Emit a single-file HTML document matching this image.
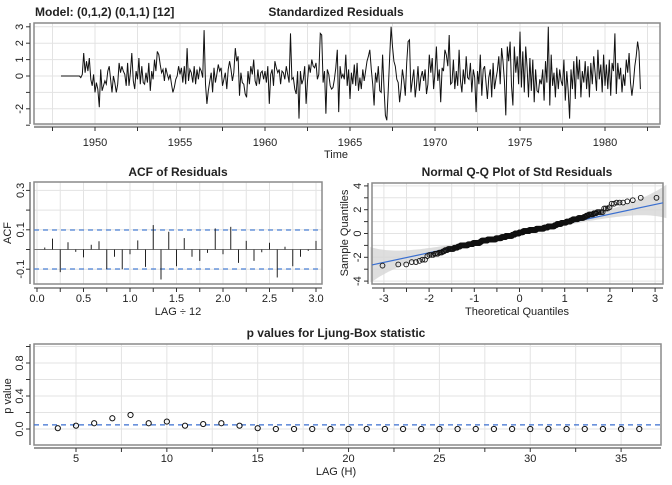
<!DOCTYPE html>
<html><head><meta charset="utf-8"><style>
body{margin:0;background:#fff}
svg text{font-family:"Liberation Sans",Arial,sans-serif}
</style></head><body>
<svg id="c" width="672" height="480" viewBox="0 0 672 480" xmlns="http://www.w3.org/2000/svg"></svg>
<script>
const residualStart = 1948;
const residuals = [
0,0,0,0,0,0,0,0,0,0,0,0,
0,0,-0.1,0.1,1.4,0.2,0.9,0.3,1.1,-0.2,-0.6,0.1,
-1.0,-0.4,-0.8,-1.9,0.4,-0.9,-0.6,-0.3,-0.5,0.3,0.6,-0.2,
-1.0,0.0,-0.4,-1.0,-0.5,0.8,0.2,0.6,0.3,0.1,-0.6,0.8,
-0.6,0.2,1.4,-0.3,-0.8,0.3,-0.2,1.1,-0.5,0.6,-0.4,-0.5,
0.2,-0.4,0.8,-0.9,0.3,-0.2,1.0,0.3,1.5,1.3,0.7,0.2,
0.4,-0.3,0.5,0.1,-0.2,0.1,-0.5,-1.0,-0.7,-0.2,0.0,0.6,
0.1,0.5,-0.4,0.6,-0.5,1.7,-0.3,0.4,0.2,-0.4,0.6,-0.5,
0.4,-0.2,0.5,0.3,-0.1,2.8,-0.5,-1.7,-0.9,-0.3,0.2,-1.0,
0.5,-0.4,0.1,0.7,0.3,0.5,-0.6,-0.2,0.2,-0.8,0.4,0.9,
0.4,-0.3,0.2,1.7,0.9,1.2,-1.2,0.2,-0.4,-0.5,-1.1,-1.3,
0.3,-0.5,0.6,0.1,1.0,-0.3,-0.6,0.4,-0.5,0.2,0.3,-0.2,
0.3,-0.4,0.6,-1.7,0.1,0.4,-0.6,0.9,0.5,0.2,0.4,-0.5,
0.3,0.2,-0.2,0.6,0.1,-0.4,2.6,-0.2,-0.1,-0.8,-1.1,0.3,
-2.6,0.3,-0.5,-0.2,0.6,-1.7,-0.3,0.7,0.2,1.0,0.6,0.5,
0.8,-0.2,0.1,2.6,2.5,-0.4,0.3,-2.3,0.4,0.1,-0.6,-0.8,
-0.7,-0.2,0.5,1.6,-2.2,0.6,-0.1,0.1,-0.2,1.3,-0.6,0.4,
-1.4,0.2,-0.5,0.7,-0.6,0.8,-0.9,-0.1,-0.8,0.4,-0.3,0.3,
0.9,1.2,1.6,0.4,-0.5,-1.8,0.2,-0.4,0.6,-0.9,-1.0,1.3,
-0.7,-2.4,-2.7,-0.8,1.2,3.0,1.8,0.9,0.6,-0.2,-0.4,-1.6,
-0.8,0.4,-0.2,-1.2,0.8,2.1,2.2,-1.0,-0.3,0.4,-1.3,-0.5,
0.6,-0.9,-0.1,0.3,-0.3,0.4,-1.1,-0.5,1.3,0.2,1.1,-0.8,
0.2,1.8,-0.3,0.4,-1.6,0.5,0.3,1.6,1.3,0.6,2.5,-0.5,
-0.4,1.0,-0.8,0.3,-0.6,1.6,-0.3,-1.0,0.4,-0.5,1.2,-0.1,
-0.2,0.8,-1.0,0.4,-0.1,-2.2,0.3,-0.5,1.3,-1.2,0.4,0.6,
-0.4,-1.4,-0.1,0.4,-1.3,0.8,-0.8,-0.2,0.3,1.2,-0.5,1.7,
0.9,-0.3,-2.4,1.8,0.9,2.1,-0.6,-1.8,1.8,0.2,1.2,-0.5,
2.7,-0.7,1.5,-1.0,1.8,0.5,-1.3,1.1,-0.9,1.0,-1.6,0.4,
-0.9,-1.0,-0.2,-0.5,0.4,-1.5,0.9,-0.4,3.0,-1.8,1.3,-0.6,
0.2,-1.3,0.5,-0.8,0.4,-0.3,-0.6,1.0,-1.5,0.3,-0.9,-2.6,
0.4,-0.8,0.9,-1.4,1.2,-0.2,1.0,-1.3,0.3,-0.4,0.9,-0.8,
0.6,-1.3,0.8,-0.5,1.2,0.2,-0.9,1.6,-0.2,0.7,-1.0,1.3,
-0.6,0.7,-0.8,1.0,-1.2,0.8,0.3,2.6,-1.1,0.8,-0.2,0.5,
-1.0,0.1,-0.6,1.0,0.2,1.4,-0.4,-1.2,-0.5,0.6,1.2,2.1,
1.5,-0.8];
const yearTicks = [1950,1955,1960,1965,1970,1975,1980];
const residTicks = [-2,0,1,2,3];
const acfValues = [0.01,0.055,-0.115,0.037,-0.012,-0.04,0.024,0.042,-0.10,-0.037,-0.10,-0.024,
0.046,-0.088,0.124,-0.152,0.09,-0.085,0.058,-0.037,-0.058,-0.017,0.107,-0.024,
0.115,-0.068,0.044,-0.058,-0.014,0.034,-0.142,0.014,-0.085,-0.037,-0.007,0.044];
const acfBound = 0.099;
const acfXTicks = ["0.0","0.5","1.0","1.5","2.0","2.5","3.0"];
const acfYTicks = ["-0.1","0.1","0.3"];
const qqTicksX = [-3,-2,-1,0,1,2,3];
const qqTicksY = [-4,-2,0,2,4];
const lbLags = [4,5,6,7,8,9,10,11,12,13,14,15,16,17,18,19,20,21,22,23,24,25,26,27,28,29,30,31,32,33,34,35,36];
const lbPvalues = [0.01,0.04,0.07,0.13,0.17,0.07,0.09,0.04,0.06,0.07,0.04,0.01,0,0,0,0,0,0,0,0,0,0,0,0,0,0,0,0,0,0,0,0,0];
const lbXTicks = [5,10,15,20,25,30,35];
const lbYTicks = ["0.0","0.4","0.8"];

const S = document.getElementById('c');
const NS = 'http://www.w3.org/2000/svg';
function el(tag, attrs, parent){const e=document.createElementNS(NS,tag);for(const k in attrs)e.setAttribute(k,attrs[k]);(parent||S).appendChild(e);return e;}
function txt(s,x,y,opt,parent){const t=el('text',Object.assign({x:x,y:y,'font-size':11,fill:'#222','text-anchor':'middle'},opt||{}),parent);t.textContent=s;return t;}

function panel(name){
  const g=el('g',{});
  
  
  return g;
}
function frame(g,L,R,T,B){el('rect',{x:L,y:T,width:R-L,height:B-T,fill:'none',stroke:'#8a8a8a','stroke-width':1.5},g);}
function grid(g,isX,v,L,R,T,B){ if(isX) el('line',{x1:v,x2:v,y1:T,y2:B,stroke:'#e3e3e3','stroke-width':1},g); else el('line',{x1:L,x2:R,y1:v,y2:v,stroke:'#e3e3e3','stroke-width':1},g);}
function xtick(g,x,y0){el('line',{x1:x,x2:x,y1:y0,y2:y0+4,stroke:'#333'},g);}
function ytick(g,y,x0){el('line',{x1:x0,x2:x0-4,y1:y,y2:y,stroke:'#333'},g);}
function ylab(g,s,x,y){const t=txt(s,x,y,{transform:`rotate(-90 ${x} ${y})`,'dominant-baseline':'middle'},g);return t;}

const mt=txt('Model: (0,1,2) (0,1,1) [12]',35,16,{'text-anchor':'start','font-weight':'bold','font-size':12});


// ---------- panel 1
(function(){
  const L=34,R=660,T=23,B=124;
  const g=panel('standardized-residuals-panel');
  const sx=t=>95+(t-1950)*(510/30), sy=v=>76-v*16.4;
  for(let t=1947.5;t<=1982.5;t+=2.5) if(sx(t)>L&&sx(t)<R) grid(g,true,sx(t),L,R,T,B);
  for(let v=-3;v<=3;v++) grid(g,false,sy(v),L,R,T,B);
  frame(g,L,R,T,B);
  const tt=txt('Standardized Residuals',336,16,{'font-weight':'bold','font-size':12},g);
  
  el('line',{x1:L,x2:R,y1:127,y2:127,stroke:'#333'},g);
  for(let t=1947.5;t<=1982.5;t+=2.5){ if(sx(t)>=L&&sx(t)<=R) xtick(g,sx(t),127);}
  yearTicks.forEach(y=>{txt(String(y),sx(y),146,{},g);});
  residTicks.forEach(v=>{ylab(g,String(v),20,sy(v));});
  el('line',{x1:30,x2:30,y1:T,y2:B,stroke:'#333'},g);
  for(let v=-3;v<=3;v++) ytick(g,sy(v),30);
  txt('Time',336,158,{},g);
  const pts=residuals.map((v,i)=>sx(residualStart+i/12).toFixed(1)+','+sy(v).toFixed(1)).join(' ');
  const pl=el('polyline',{points:pts,fill:'none',stroke:'#111','stroke-width':1},g);
  
})();

// ---------- panel 2: ACF
(function(){
  const L=34,R=322,T=182,B=284;
  const g=panel('acf-panel');
  const sx=v=>37+v*(279/3), sy=v=>249.5-v*197;
  for(let v=0;v<=3.01;v+=0.25) grid(g,true,sx(v),L,R,T,B);
  for(let v=-0.1;v<=0.31;v+=0.1) grid(g,false,sy(v),L,R,T,B);
  frame(g,L,R,T,B);
  txt('ACF of Residuals',178,176,{'font-weight':'bold','font-size':12},g);
  el('line',{x1:L,x2:R,y1:sy(0),y2:sy(0),stroke:'#777'},g);
  [acfBound,-acfBound].forEach(b=>{el('line',{x1:L,x2:R,y1:sy(b),y2:sy(b),stroke:'#4a7fd4','stroke-width':1.3,'stroke-dasharray':'5,4'},g);});
  acfValues.forEach((v,i)=>{
    const x=sx((i+1)/12);
    const b=el('line',{x1:x,x2:x,y1:sy(0),y2:sy(v),stroke:'#222','stroke-width':1},g);
    
  });
  el('line',{x1:L,x2:R,y1:288,y2:288,stroke:'#333'},g);
  for(let v=0;v<=3.01;v+=0.25) xtick(g,sx(v),288);
  acfXTicks.forEach(s=>txt(s,sx(parseFloat(s)),302,{},g));
  el('line',{x1:30,x2:30,y1:T,y2:B,stroke:'#333'},g);
  for(let v=-0.1;v<=0.31;v+=0.1) ytick(g,sy(v),30);
  acfYTicks.forEach(s=>ylab(g,s,21,sy(parseFloat(s))));
  ylab(g,'ACF',8,233);
  txt('LAG ÷ 12',178,315,{},g);
})();

// ---------- panel 3: QQ
function qnorm(p){const a=[-39.6968302866538,220.946098424521,-275.928510446969,138.357751867269,-30.6647980661472,2.50662827745924],
b=[-54.4760987982241,161.585836858041,-155.698979859887,66.8013118877197,-13.2806815528857],
c=[-0.00778489400243029,-0.322396458041136,-2.40075827716184,-2.54973253934373,4.37466414146497,2.93816398269878],
d=[0.00778469570904146,0.32246712907004,2.445134137143,3.75440866190742];
let q,r;if(p<0.02425){q=Math.sqrt(-2*Math.log(p));return(((((c[0]*q+c[1])*q+c[2])*q+c[3])*q+c[4])*q+c[5])/((((d[0]*q+d[1])*q+d[2])*q+d[3])*q+1);}
if(p>1-0.02425){q=Math.sqrt(-2*Math.log(1-p));return-(((((c[0]*q+c[1])*q+c[2])*q+c[3])*q+c[4])*q+c[5])/((((d[0]*q+d[1])*q+d[2])*q+d[3])*q+1);}
q=p-0.5;r=q*q;return(((((a[0]*r+a[1])*r+a[2])*r+a[3])*r+a[4])*r+a[5])*q/(((((b[0]*r+b[1])*r+b[2])*r+b[3])*r+b[4])*r+1);}
(function(){
  const L=372,R=663,T=183,B=284;
  const g=panel('qq-panel');
  const sx=v=>519.5+v*45.2, sy=v=>233.5-v*11.9;
  for(let v=-3;v<=3;v+=0.5) grid(g,true,sx(v),L,R,T,B);
  for(let v=-4;v<=4;v++) grid(g,false,sy(v),L,R,T,B);
  const n=residuals.length, sorted=residuals.slice().sort((a,b)=>a-b);
  const tq=sorted.map((_,i)=>qnorm((i+0.5)/n));
  const q1=sorted[Math.floor(n*0.25)],q3=sorted[Math.floor(n*0.75)],z=qnorm(0.75);
  const slope=(q3-q1)/(2*z), icpt=(q1+q3)/2;
  const up=[],lo=[];
  for(let x=-3.3;x<=3.25;x+=0.05){const p=0.5*(1+Math.tanh(0.7978845608*(x+0.044715*x*x*x)));const dn=Math.exp(-x*x/2)/2.5066;const se=slope/dn*Math.sqrt(p*(1-p)/n)*1.96*1.65;const m=icpt+slope*x;up.push(sx(x).toFixed(1)+','+sy(Math.min(m+se,4.1)).toFixed(1));lo.unshift(sx(x).toFixed(1)+','+sy(Math.max(m-se,-4.1)).toFixed(1));}
  const band=el('polygon',{points:up.concat(lo).join(' '),fill:'#d6d6d6','fill-opacity':0.8},g);
  
  frame(g,L,R,T,B);
  txt('Normal Q-Q Plot of Std Residuals',517,176,{'font-weight':'bold','font-size':12},g);
  const ql=el('line',{x1:L,x2:R,y1:sy(icpt+slope*(-3.3)),y2:sy(icpt+slope*3.1),stroke:'#3a6fd0','stroke-width':1.2},g);
  
  sorted.forEach((v,i)=>{
    const c=el('circle',{cx:sx(tq[i]),cy:sy(v),r:2.4,fill:'none',stroke:'#111','stroke-width':0.9},g);
    
  });
  el('line',{x1:L,x2:R,y1:288,y2:288,stroke:'#333'},g);
  for(let v=-3;v<=3;v+=0.5) xtick(g,sx(v),288);
  qqTicksX.forEach(v=>txt(String(v),sx(v),302,{},g));
  el('line',{x1:368,x2:368,y1:T,y2:B,stroke:'#333'},g);
  for(let v=-4;v<=4;v++) ytick(g,sy(v),368);
  qqTicksY.forEach(v=>ylab(g,String(v),358,sy(v)));
  ylab(g,'Sample Quantiles',345,233);
  txt('Theoretical Quantiles',517,315,{},g);
})();

// ---------- panel 4: Ljung-Box
(function(){
  const L=34,R=661,T=344,B=445;
  const g=panel('ljung-box-panel');
  const sx=v=>76+(v-5)*18.17, sy=v=>429-v*82.5;
  for(let v=2.5;v<=37.5;v+=2.5) if(sx(v)>L&&sx(v)<R) grid(g,true,sx(v),L,R,T,B);
  for(let v=0;v<=1.01;v+=0.2) grid(g,false,sy(v),L,R,T,B);
  frame(g,L,R,T,B);
  txt('p values for Ljung-Box statistic',336,337,{'font-weight':'bold','font-size':12},g);
  el('line',{x1:L,x2:R,y1:sy(0.05),y2:sy(0.05),stroke:'#3a6fd0','stroke-width':1.2,'stroke-dasharray':'5,4'},g);
  lbLags.forEach((l,i)=>{
    const c=el('circle',{cx:sx(l),cy:sy(lbPvalues[i]),r:2.6,fill:'none',stroke:'#111','stroke-width':1},g);
    
  });
  el('line',{x1:L,x2:R,y1:448,y2:448,stroke:'#333'},g);
  for(let v=2.5;v<=37.5;v+=2.5) if(sx(v)>=L&&sx(v)<=R) xtick(g,sx(v),448);
  lbXTicks.forEach(v=>txt(String(v),sx(v),462,{},g));
  el('line',{x1:30,x2:30,y1:T,y2:B,stroke:'#333'},g);
  for(let v=-0.2;v<=1.01;v+=0.2) if(sy(v)<=B&&sy(v)>=T) ytick(g,sy(v),30);
  lbYTicks.forEach(s=>ylab(g,s,20,sy(parseFloat(s))));
  ylab(g,'p value',8,396);
  txt('LAG (H)',336,475,{},g);
})();
</script>
</body></html>
